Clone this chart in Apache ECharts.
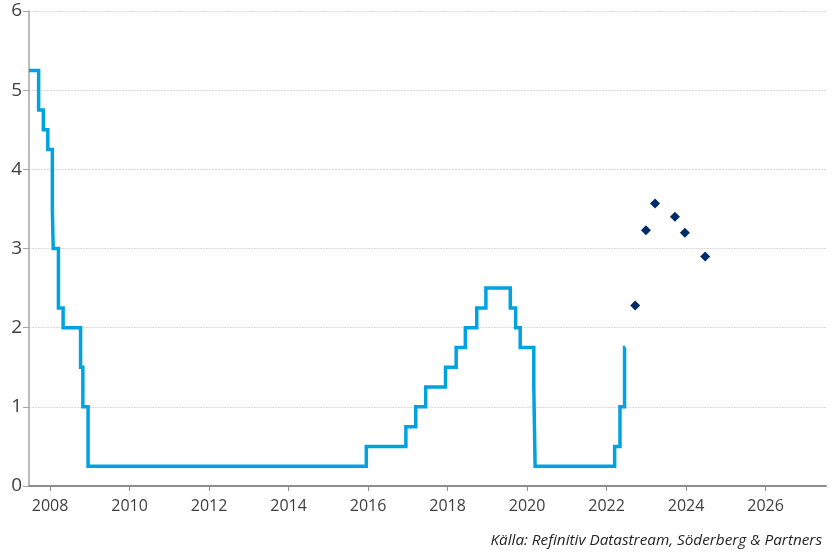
<!DOCTYPE html>
<html>
<head>
<meta charset="utf-8">
<script src="https://cdn.jsdelivr.net/npm/echarts@6/dist/echarts.min.js"></script>
<style>html,body{margin:0;padding:0;background:#fff;}#c{width:837px;height:555px;}</style>
</head>
<body>
<div id="c"></div>
<script>
// Policy rate (upper bound), change dates as decimal years
var stepDates = [2007.47, 2007.712, 2007.830, 2007.943, 2008.057, 2008.079, 2008.210, 2008.328, 2008.768, 2008.825, 2008.956,
  2015.956, 2016.951, 2017.200, 2017.449, 2017.948, 2018.216, 2018.447, 2018.734, 2018.964,
  2019.578, 2019.712, 2019.827, 2020.169, 2020.202, 2022.203, 2022.337, 2022.452, 2022.47];
var stepRates = [5.25, 4.75, 4.50, 4.25, 3.50, 3.00, 2.25, 2.00, 1.50, 1.00, 0.25,
  0.50, 0.75, 1.00, 1.25, 1.50, 1.75, 2.00, 2.25, 2.50,
  2.25, 2.00, 1.75, 1.25, 0.25, 0.50, 1.00, 1.75, 1.75];
// Market expectations
var forecastDates = [2022.72, 2022.99, 2023.22, 2023.72, 2023.97, 2024.48];
var forecastRates = [2.28, 3.23, 3.57, 3.40, 3.20, 2.90];
var xTicks = [2008, 2010, 2012, 2014, 2016, 2018, 2020, 2022, 2024, 2026];
var yMin = 0, yMax = 6, yStep = 1;
var xMin = 2007.47, xMax = 2027.52;

var lineData = stepDates.map(function (d, i) { return [d, stepRates[i]]; });
var dotData = forecastDates.map(function (d, i) { return [d, forecastRates[i]]; });

var font = '"Open Sans", "Noto Sans", sans-serif';
var chart = echarts.init(document.getElementById('c'), null, {renderer: 'canvas'});
chart.setOption({
  animation: false,
  backgroundColor: '#ffffff',
  grid: {left: 29, right: 11, top: 11, bottom: 69, containLabel: false},
  title: {
    text: 'Källa: Refinitiv Datastream, Söderberg & Partners',
    right: 10, bottom: 2,
    textStyle: {fontFamily: font, fontStyle: 'italic', fontWeight: 'normal', fontSize: 15.3, color: '#262626'}
  },
  xAxis: {
    type: 'value', min: xMin, max: xMax,
    splitLine: {show: false},
    axisLine: {show: true, onZero: false, lineStyle: {color: '#8c8c8c', width: 2}},
    axisTick: {show: true, customValues: xTicks, length: 5, lineStyle: {color: '#8c8c8c', width: 1}},
    axisLabel: {customValues: xTicks, formatter: function (v) { return String(Math.round(v)); },
      fontFamily: font, fontSize: 16, color: '#404040', margin: 12}
  },
  yAxis: {
    type: 'value', min: yMin, max: yMax, interval: yStep,
    axisLine: {show: true, lineStyle: {color: '#a6a6a6', width: 1.5}},
    axisTick: {show: true, length: 6, lineStyle: {color: '#a6a6a6'}},
    axisLabel: {fontFamily: font, fontSize: 19, color: '#404040', margin: 7},
    splitLine: {show: true, lineStyle: {color: '#d9d9d9', type: [2, 1], width: 1}}
  },
  series: [
    {
      type: 'line', data: lineData, step: 'end', showSymbol: false, symbol: 'none',
      lineStyle: {color: '#00A3E0', width: 3.5, cap: 'butt', join: 'miter'}, z: 3
    },
    {
      type: 'scatter', data: dotData, symbol: 'diamond', symbolSize: 10,
      itemStyle: {color: '#002B6B', opacity: 1}, z: 4
    }
  ]
});
</script>
</body>
</html>
